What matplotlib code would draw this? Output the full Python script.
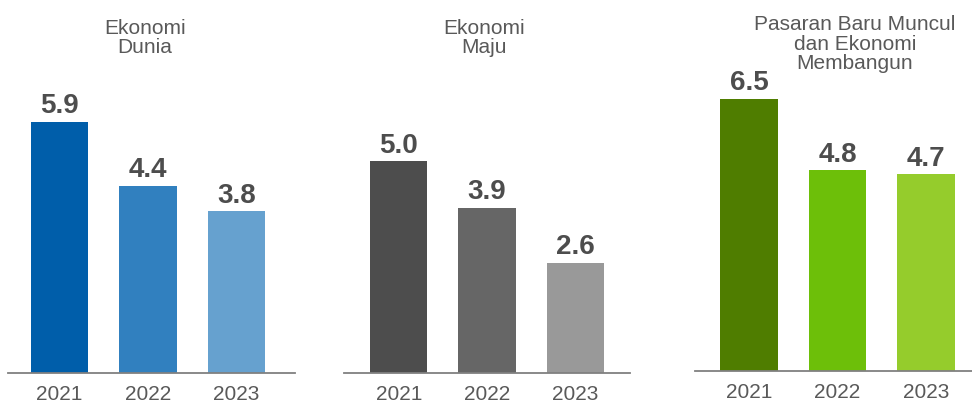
import matplotlib.pyplot as plt

plt.rcParams['font.family'] = ['Liberation Sans', 'DejaVu Sans']

years = ['2021', '2022', '2023']

titles = ['Ekonomi\nDunia', 'Ekonomi\nMaju', 'Pasaran Baru Muncul\ndan Ekonomi\nMembangun']
world = [5.9, 4.4, 3.8]
advanced = [5.0, 3.9, 2.6]
emerging = [6.5, 4.8, 4.7]
values = [world, advanced, emerging]

colors = [
    ['#005eaa', '#3180bf', '#66a1cf'],
    ['#4d4d4d', '#666666', '#999999'],
    ['#4f7d00', '#6dbf09', '#95cc2c'],
]

W, H = 972, 405
fig = plt.figure(figsize=(W / 100, H / 100), dpi=100)

# axes boxes in pixels: left, right, baseline ; and title centre
boxes = [(8, 295, 373, 145, 38), (344, 630, 373, 484, 38), (695, 972, 371, 855, 44)]
xlims = [(-0.585, 2.665), (-0.62, 2.62), (-0.61, 2.52)]
scales = [42.6, 42.4, 41.9]

for i in range(3):
    left, right, base, tx, ty = boxes[i]
    ax = fig.add_axes([left / W, 1 - base / H, (right - left) / W, base / H])
    x = range(len(years))
    ax.bar(x, values[i], width=0.65, color=colors[i])
    ax.set_xlim(*xlims[i])
    ax.set_ylim(0, base / scales[i])
    for s in ['top', 'left', 'right']:
        ax.spines[s].set_visible(False)
    ax.spines['bottom'].set_color('#808080')
    ax.spines['bottom'].set_linewidth(1.3)
    ax.set_yticks([])
    ax.set_xticks(list(x))
    ax.set_xticklabels(years, fontsize=15, color='#595959')
    ax.tick_params(axis='x', length=0, pad=8.5)
    for xi, v in zip(x, values[i]):
        ax.annotate(f'{v:.1f}', (xi, v), xytext=(0, 6), textcoords='offset points',
                    ha='center', va='baseline', fontsize=20, fontweight='bold',
                    color='#4d4d4d')
    ax.patch.set_alpha(0)
    fig.text(tx / W, 1 - ty / H, titles[i], ha='center', va='center',
             fontsize=15, color='#595959', linespacing=1.05)

fig.savefig('out.png', dpi=100)
